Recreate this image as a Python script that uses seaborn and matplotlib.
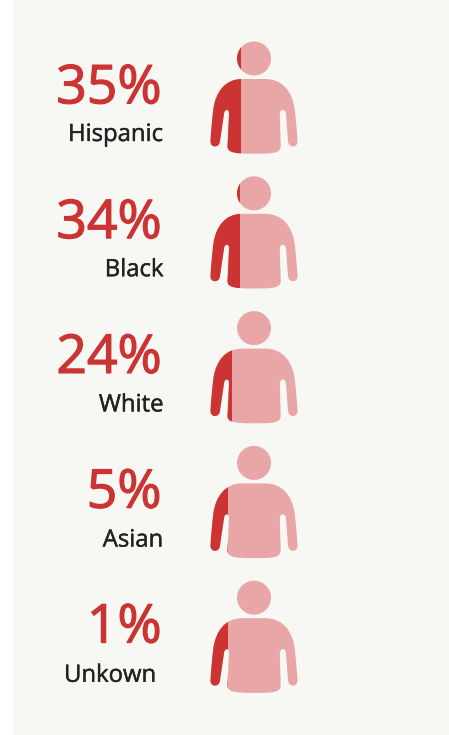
import numpy as np
import pandas as pd
import seaborn as sns
import matplotlib.pyplot as plt
import matplotlib.patheffects as pe
from matplotlib.path import Path
from matplotlib.patches import PathPatch, Rectangle
from matplotlib.transforms import Affine2D

# Share of cases by group
groups = ["Hispanic", "Black", "White", "Asian", "Unkown"]
shares = [35, 34, 24, 5, 1]
share_labels = ["35%", "34%", "24%", "5%", "1%"]

W, H = 449, 735
RED = "#cc3333"
PINK = "#e8a6a6"
PANEL = "#f7f7f3"
TEXT = "#222222"

sns.set_theme(style="white")
plt.rcParams["font.family"] = ["Open Sans", "DejaVu Sans"]

fig = plt.figure(figsize=(W / 100, H / 100), dpi=100, facecolor="white")
px = Affine2D().scale(1 / W, -1 / H).translate(0, 1) + fig.transFigure

fig.add_artist(Rectangle((13, 0), W - 13, H, transform=px, fc=PANEL, ec="none", zorder=-5))

# Icon column: one horizontal band per group, fill level on a compressed scale
ICON_L, ICON_R = 210, 298
ROW_0, ROW_STEP = 98, 134.8
ax = fig.add_axes([ICON_L / W, 1 - (ROW_0 + 4.5 * ROW_STEP) / H,
                   (ICON_R - ICON_L) / W, 5 * ROW_STEP / H], zorder=2)
ax.patch.set_visible(False)

level_in = np.array([0, 1, 5, 24, 34, 35, 100], dtype=float)
level_out = np.array([0, 18, 18.3, 21.5, 30, 30.5, 88], dtype=float)
ax.set_xscale("function", functions=(lambda v: np.interp(v, level_in, level_out),
                                     lambda v: np.interp(v, level_out, level_in)))

df = pd.DataFrame({"group": groups, "share": shares})
sns.barplot(data=df, y="group", x="share", color=RED, width=1, saturation=1, ax=ax)
ax.set_xlim(0, 100)
ax.set_ylim(4.5, -0.5)
ax.set_axis_off()


def person_outline(dy):
    """Closed outline of the person pictogram, torso and head, in pixel units."""
    m, l, c = Path.MOVETO, Path.LINETO, Path.CURVE4
    pieces = [
        (m, [(242, 79)]),
        (l, [(265, 79)]),
        (c, [(283, 79), (292, 92), (294.5, 108)]),
        (c, [(296, 120), (297, 132), (297.5, 141)]),
        (c, [(298, 148), (288.5, 148.5), (288, 141)]),
        (l, [(286, 114)]),
        (c, [(285.5, 108.5), (280, 108.5), (279.8, 114)]),
        (l, [(280.7, 146)]),
        (c, [(281, 154), (270, 153.7), (253, 153.7)]),
        (c, [(236, 153.7), (227, 153), (227.5, 146)]),
        (l, [(229, 114)]),
        (c, [(229.3, 108.5), (224.5, 108.5), (224, 114)]),
        (l, [(220, 141)]),
        (c, [(219.5, 148.5), (210, 148), (210.5, 141)]),
        (c, [(211, 132), (212, 120), (213.5, 108)]),
        (c, [(216, 92), (225, 79), (242, 79)]),
    ]
    verts, codes = [], []
    for code, pts in pieces:
        verts += pts
        codes += [code] * len(pts)
    torso = Path(verts + [(242, 79)], codes + [Path.CLOSEPOLY])
    outline = Path.make_compound_path(torso, Path.circle((254, 58.5), 17))
    return Path(outline.vertices + np.array([0, dy]), outline.codes)


for i, bar in enumerate(ax.patches[:len(groups)]):
    shape = PathPatch(person_outline(i * ROW_STEP), transform=px, fc=PINK, ec="none", zorder=1)
    fig.add_artist(shape)
    bar.set_linewidth(0)
    bar.set_clip_path(shape)

# Percent figures and group names, right aligned beside each icon
heavy = [pe.withStroke(linewidth=0.9, foreground=RED)]
medium = [pe.withStroke(linewidth=0.3, foreground=TEXT)]
for i, (name, label) in enumerate(zip(groups, share_labels)):
    fig.text(161.5 / W, 1 - (103.3 + i * 134.8) / H, label, color=RED, fontsize=38.5,
             ha="right", va="baseline", path_effects=heavy)
    name_x = 156 if name == "Unkown" else 163.5
    fig.text(name_x / W, 1 - (141 + i * 135.2) / H, name, color=TEXT, fontsize=17.2,
             ha="right", va="baseline", path_effects=medium)

fig.savefig("out.png", dpi=100, facecolor="white")
